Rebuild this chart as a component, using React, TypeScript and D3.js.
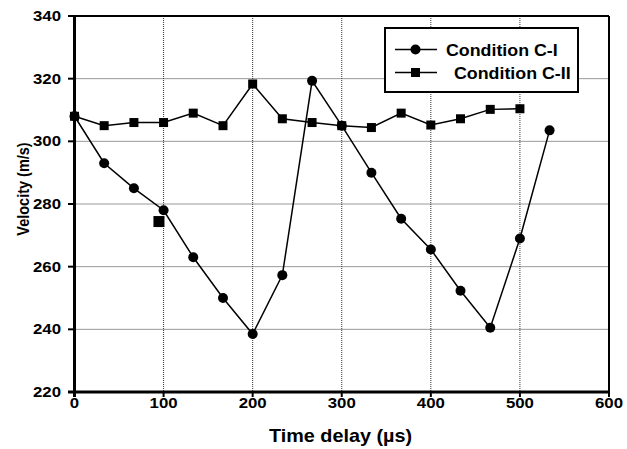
import React from "react";
import * as d3 from "d3";

const timeC1 = [0, 33.3, 66.7, 100, 133.3, 166.7, 200, 233.3, 266.7, 300, 333.3, 366.7, 400, 433.3, 466.7, 500, 533.3];
const velC1 = [308, 293, 285, 278, 263, 250, 238.5, 257.3, 319.3, 305, 290, 275.3, 265.5, 252.3, 240.5, 269, 303.5];
const timeC2 = [0, 33.3, 66.7, 100, 133.3, 166.7, 200, 233.3, 266.7, 300, 333.3, 366.7, 400, 433.3, 466.7, 500];
const velC2 = [308, 305, 306, 306, 309, 305, 318.3, 307.2, 306, 305, 304.4, 309, 305.2, 307.2, 310.2, 310.4];
const outlierTime = [94.8];
const outlierVel = [274.4];
const xTicks = [0, 100, 200, 300, 400, 500, 600];
const yTicks = [220, 240, 260, 280, 300, 320, 340];
const legendLabels = ["Condition C-I", "Condition C-II"];

const W = 627, H = 449;
const FONT = "'Liberation Sans', Arial, sans-serif";

export default function App() {
  const x = d3.scaleLinear().domain([0, 600]).range([74.5, 609]);
  const y = d3.scaleLinear().domain([220, 340]).range([392, 16]);
  const line = d3.line<[number, number]>().x(d => x(d[0])).y(d => y(d[1]));
  const c1 = timeC1.map((t, i) => [t, velC1[i]] as [number, number]);
  const c2 = timeC2.map((t, i) => [t, velC2[i]] as [number, number]);
  const grid = "#333";

  return (
    <svg width={W} height={H} style={{ position: "absolute", left: 0, top: 0, background: "#fff" }} fontFamily={FONT}>
      <rect x={0} y={0} width={W} height={H} fill="#fff" />
      {/* gridlines */}
      {xTicks.filter(t => t > 0 && t < 600).map(t => (
        <line key={"gx" + t} x1={x(t)} x2={x(t)} y1={y(340)} y2={y(220)} stroke={grid} strokeWidth={1} strokeDasharray="1,1" />
      ))}
      {yTicks.filter(t => t > 220 && t < 340).map(t => (
        <line key={"gy" + t} x1={x(0)} x2={x(600)} y1={y(t)} y2={y(t)} stroke={grid} strokeWidth={1} strokeDasharray="1,1" />
      ))}
      {/* frame */}
      <line x1={68} x2={x(600)} y1={y(340)} y2={y(340)} stroke="#000" strokeWidth={2} />
      <line x1={x(600)} x2={x(600)} y1={y(340)} y2={y(220) + 5} stroke="#000" strokeWidth={2} />
      <line x1={x(0)} x2={x(0)} y1={y(340)} y2={y(220) + 5} stroke="#000" strokeWidth={3} />
      <line x1={68} x2={x(600)} y1={y(220)} y2={y(220)} stroke="#000" strokeWidth={3} />
      {/* ticks */}
      {yTicks.map(t => (
        <line key={"ty" + t} x1={68} x2={x(0)} y1={y(t)} y2={y(t)} stroke="#000" strokeWidth={2} />
      ))}
      {xTicks.map(t => (
        <line key={"tx" + t} x1={x(t)} x2={x(t)} y1={y(220)} y2={y(220) + 5} stroke="#000" strokeWidth={2} />
      ))}
      {/* tick labels */}
      {yTicks.map(t => (
        <text key={"ly" + t} transform={`translate(61,${y(t) + 5}) scale(1.2,1)`} textAnchor="end" fontSize={14} fontWeight="bold">{t}</text>
      ))}
      {xTicks.map(t => (
        <text key={"lx" + t} transform={`translate(${x(t)},${408}) scale(1.2,1)`} textAnchor="middle" fontSize={14} fontWeight="bold">{t}</text>
      ))}
      {/* axis titles */}
      <text transform={`translate(${(267 + 414) / 2},442) scale(1.1,1)`} textAnchor="middle" fontSize={18} fontWeight="bold">Time delay (µs)</text>
      <text transform={`translate(28.5,189) rotate(-90) scale(1,1.2)`} textAnchor="middle" fontSize={14.5} fontWeight="bold">Velocity (m/s)</text>
      {/* series */}
      <path d={line(c2) || ""} fill="none" stroke="#000" strokeWidth={1.5} />
      <path d={line(c1) || ""} fill="none" stroke="#000" strokeWidth={1.5} />
      {c2.map((d, i) => (
        <rect key={"s" + i} x={x(d[0]) - 4.5} y={y(d[1]) - 4.5} width={9} height={9} fill="#000" />
      ))}
      {outlierTime.map((t, i) => (
        <rect key={"o" + i} x={x(t) - 5.5} y={y(outlierVel[i]) - 5.5} width={11} height={11} fill="#000" />
      ))}
      {c1.map((d, i) => (
        <circle key={"c" + i} cx={x(d[0])} cy={y(d[1])} r={5} fill="#000" />
      ))}
      {/* legend */}
      <rect x={385} y={28} width={193} height={64} fill="#fff" stroke="#000" strokeWidth={2} />
      <line x1={395} x2={437} y1={49.5} y2={49.5} stroke="#000" strokeWidth={1.5} />
      <circle cx={415.5} cy={49.5} r={5} fill="#000" />
      <line x1={395} x2={437} y1={72.5} y2={72.5} stroke="#000" strokeWidth={1.5} />
      <rect x={411} y={68} width={9} height={9} fill="#000" />
      <text transform={`translate(446,55.5) scale(1.08,1)`} fontSize={16.5} fontWeight="bold">{legendLabels[0]}</text>
      <text transform={`translate(454,78.5) scale(1.08,1)`} fontSize={16.5} fontWeight="bold">{legendLabels[1]}</text>
    </svg>
  );
}
